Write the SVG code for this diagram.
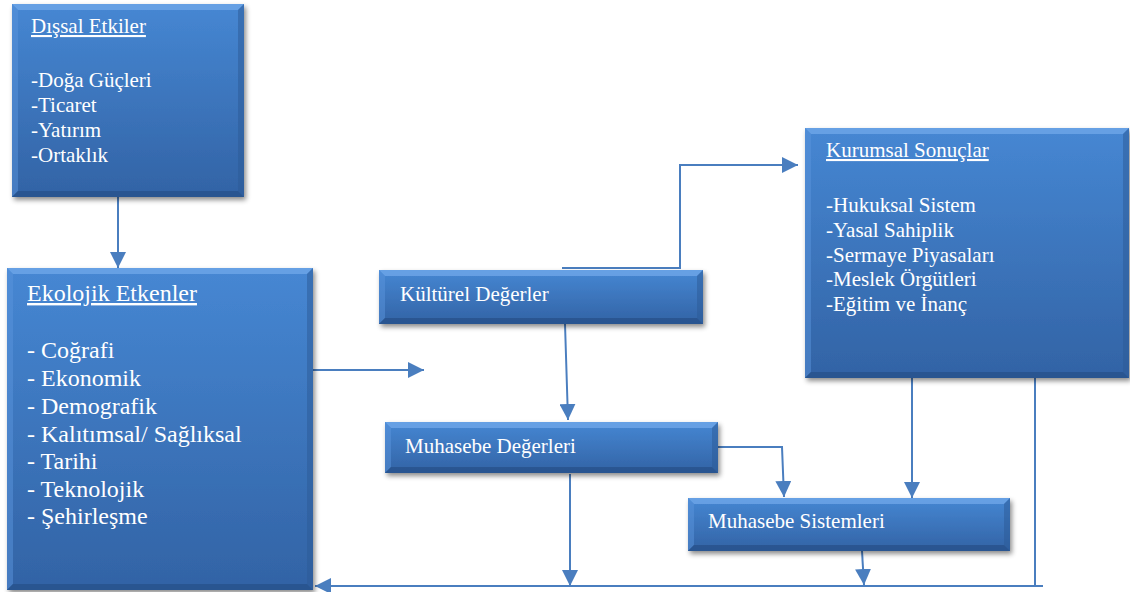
<svg xmlns="http://www.w3.org/2000/svg" width="1130" height="592" viewBox="0 0 1130 592">
<defs>
<linearGradient id="g" x1="0" y1="0" x2="0" y2="1">
<stop offset="0" stop-color="#4687d3"/>
<stop offset="1" stop-color="#3263a5"/>
</linearGradient>
<filter id="sh" x="-10%" y="-10%" width="125%" height="130%">
<feDropShadow dx="2" dy="3" stdDeviation="2.5" flood-color="#000" flood-opacity="0.45"/>
</filter>
<marker id="ahb" viewBox="0 0 10 10" refX="10" refY="5" markerWidth="16" markerHeight="16" markerUnits="userSpaceOnUse" orient="auto">
<path d="M0,0 L10,5 L0,10 z" fill="#4a7ebf"/>
</marker>
</defs>
<style>
.box{fill:url(#g);filter:url(#sh)}
.bt{fill:#6ea6e8;opacity:0.8}
.bl{fill:#5a94dc;opacity:0.5}
.br{fill:#2c5a96;opacity:0.5}
.bb{fill:#27508a;opacity:0.75}
.t{fill:#ffffff}
.c{fill:none;stroke:#4a7ebf;stroke-width:2}
</style>
<rect width="1130" height="592" fill="#ffffff"/>

<g id="connectors">
<path class="c" d="M118,197 L118,268" marker-end="url(#ahb)"/>
<path class="c" d="M313,370 L424,370" marker-end="url(#ahb)"/>
<path class="c" d="M562,268 L680,268 L680,165 L798,165" marker-end="url(#ahb)"/>
<path class="c" d="M565,324 L568,420" marker-end="url(#ahb)"/>
<path class="c" d="M718,447 L782,447 L784,497" marker-end="url(#ahb)"/>
<path class="c" d="M912,378 L912,498" marker-end="url(#ahb)"/>
<path class="c" d="M1035,378 L1035,586"/>
<path class="c" d="M1043,586 L315,586" marker-end="url(#ahb)"/>
<path class="c" d="M570,474 L570,586" marker-end="url(#ahb)"/>
<path class="c" d="M862,551 L864,585" marker-end="url(#ahb)"/>
</g>

<g id="disal-etkiler" font-family="'Liberation Serif', 'Times New Roman', Tinos, serif">
<rect class="box" x="12" y="4" width="232" height="193"/>
<polygon class="bt" points="12,4 244,4 238,10 18,10"/>
<polygon class="bl" points="12,4 18,10 18,191 12,197"/>
<polygon class="br" points="244,4 244,197 238,191 238,10"/>
<polygon class="bb" points="12,197 244,197 238,191 18,191"/>
<text class="t" font-size="21" x="31" y="33" text-decoration="underline">Dışsal Etkiler</text>
<text class="t" font-size="21" x="31" y="87">-Doğa Güçleri</text>
<text class="t" font-size="21" x="31" y="112">-Ticaret</text>
<text class="t" font-size="21" x="31" y="137">-Yatırım</text>
<text class="t" font-size="21" x="31" y="162">-Ortaklık</text>
</g>

<g id="ekolojik-etkenler" font-family="'Liberation Serif', 'Times New Roman', Tinos, serif">
<rect class="box" x="7" y="268" width="306" height="322"/>
<polygon class="bt" points="7,268 313,268 307,274 13,274"/>
<polygon class="bl" points="7,268 13,274 13,584 7,590"/>
<polygon class="br" points="313,268 313,590 307,584 307,274"/>
<polygon class="bb" points="7,590 313,590 307,584 13,584"/>
<text class="t" font-size="24" x="27" y="301" text-decoration="underline">Ekolojik Etkenler</text>
<text class="t" font-size="24" x="27" y="358">- Coğrafi</text>
<text class="t" font-size="24" x="27" y="386">- Ekonomik</text>
<text class="t" font-size="24" x="27" y="414">- Demografik</text>
<text class="t" font-size="24" x="27" y="442">- Kalıtımsal/ Sağlıksal</text>
<text class="t" font-size="24" x="27" y="469">- Tarihi</text>
<text class="t" font-size="24" x="27" y="497">- Teknolojik</text>
<text class="t" font-size="24" x="27" y="524">- Şehirleşme</text>
</g>

<g id="kulturel-degerler" font-family="'Liberation Serif', 'Times New Roman', Tinos, serif">
<rect class="box" x="379" y="270" width="324" height="54"/>
<polygon class="bt" points="379,270 703,270 697,276 385,276"/>
<polygon class="bl" points="379,270 385,276 385,318 379,324"/>
<polygon class="br" points="703,270 703,324 697,318 697,276"/>
<polygon class="bb" points="379,324 703,324 697,318 385,318"/>
<text class="t" font-size="21" x="400" y="301">Kültürel Değerler</text>
</g>

<g id="kurumsal-sonuclar" font-family="'Liberation Serif', 'Times New Roman', Tinos, serif">
<rect class="box" x="805" y="128" width="324" height="250"/>
<polygon class="bt" points="805,128 1129,128 1123,134 811,134"/>
<polygon class="bl" points="805,128 811,134 811,372 805,378"/>
<polygon class="br" points="1129,128 1129,378 1123,372 1123,134"/>
<polygon class="bb" points="805,378 1129,378 1123,372 811,372"/>
<text class="t" font-size="21" x="826" y="157" text-decoration="underline">Kurumsal Sonuçlar</text>
<text class="t" font-size="21" x="826" y="212">-Hukuksal Sistem</text>
<text class="t" font-size="21" x="826" y="237">-Yasal Sahiplik</text>
<text class="t" font-size="21" x="826" y="262">-Sermaye Piyasaları</text>
<text class="t" font-size="21" x="826" y="286">-Meslek Örgütleri</text>
<text class="t" font-size="21" x="826" y="311">-Eğitim ve İnanç</text>
</g>

<g id="muhasebe-degerleri" font-family="'Liberation Serif', 'Times New Roman', Tinos, serif">
<rect class="box" x="385" y="422" width="333" height="51"/>
<polygon class="bt" points="385,422 718,422 712,428 391,428"/>
<polygon class="bl" points="385,422 391,428 391,467 385,473"/>
<polygon class="br" points="718,422 718,473 712,467 712,428"/>
<polygon class="bb" points="385,473 718,473 712,467 391,467"/>
<text class="t" font-size="21" x="405" y="453">Muhasebe Değerleri</text>
</g>

<g id="muhasebe-sistemleri" font-family="'Liberation Serif', 'Times New Roman', Tinos, serif">
<rect class="box" x="688" y="498" width="322" height="53"/>
<polygon class="bt" points="688,498 1010,498 1004,504 694,504"/>
<polygon class="bl" points="688,498 694,504 694,545 688,551"/>
<polygon class="br" points="1010,498 1010,551 1004,545 1004,504"/>
<polygon class="bb" points="688,551 1010,551 1004,545 694,545"/>
<text class="t" font-size="21" x="708" y="528">Muhasebe Sistemleri</text>
</g>
</svg>
